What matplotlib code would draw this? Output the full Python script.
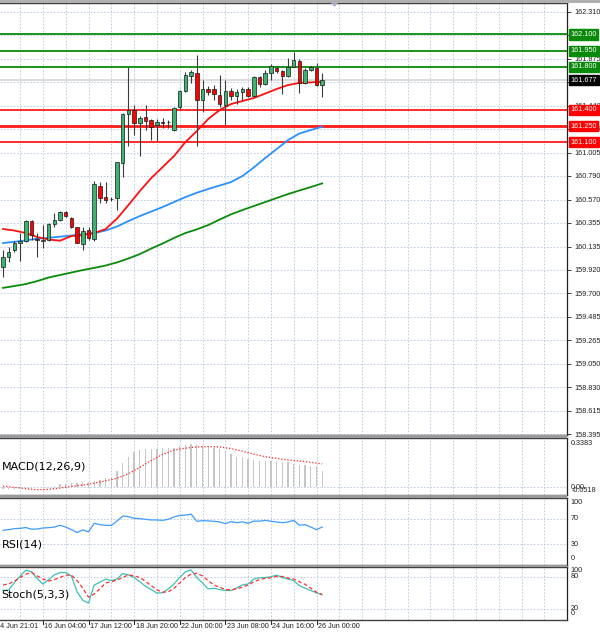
import numpy as np
import matplotlib
matplotlib.use("Agg")
import matplotlib.pyplot as plt
from matplotlib.patches import Rectangle, Polygon
import matplotlib.transforms as mtransforms

# ---------------- data ----------------
opens = [159.945, 160.035, 160.102, 160.170, 160.189, 160.374, 160.204, 160.190, 160.195, 160.340,
         160.380, 160.451, 160.402, 160.313, 160.158, 160.292, 160.204, 160.695, 160.591, 160.579,
         160.581, 160.911, 161.360, 161.399, 161.282, 161.332, 161.307, 161.260, 161.293, 161.285,
         161.214, 161.423, 161.575, 161.719, 161.747, 161.492, 161.591, 161.591, 161.538, 161.450,
         161.578, 161.532, 161.566, 161.591, 161.532, 161.702, 161.640, 161.745, 161.791, 161.761,
         161.714, 161.801, 161.853, 161.652, 161.770, 161.791, 161.631]
highs = [160.102, 160.133, 160.189, 160.257, 160.385, 160.385, 160.263, 160.334, 160.352, 160.448,
         160.467, 160.464, 160.411, 160.318, 160.313, 160.315, 160.742, 160.735, 160.735, 160.593,
         160.921, 161.372, 161.801, 161.446, 161.344, 161.446, 161.316, 161.321, 161.330, 161.307,
         161.432, 161.585, 161.754, 161.770, 161.909, 161.677, 161.622, 161.631, 161.724, 161.677,
         161.600, 161.591, 161.610, 161.610, 161.714, 161.714, 161.770, 161.825, 161.810, 161.770,
         161.884, 161.940, 161.872, 161.788, 161.807, 161.838, 161.739]
lows = [159.855, 159.994, 160.087, 160.003, 160.177, 160.195, 160.035, 160.121, 160.186, 160.318,
        160.371, 160.405, 160.306, 160.167, 160.102, 160.195, 160.186, 160.535, 160.538, 160.556,
        160.473, 160.782, 161.066, 161.168, 160.978, 161.214, 161.122, 161.116, 161.233, 161.230,
        161.205, 161.413, 161.566, 161.650, 161.066, 161.384, 161.538, 161.492, 161.430, 161.261,
        161.492, 161.455, 161.492, 161.520, 161.524, 161.615, 161.631, 161.677, 161.745, 161.548,
        161.705, 161.798, 161.554, 161.645, 161.761, 161.622, 161.523]
closes = [160.040, 160.087, 160.170, 160.189, 160.374, 160.241, 160.195, 160.200, 160.340, 160.380,
          160.454, 160.417, 160.318, 160.170, 160.278, 160.214, 160.714, 160.584, 160.566, 160.575,
          160.915, 161.360, 161.399, 161.279, 161.330, 161.300, 161.245, 161.293, 161.276, 161.284,
          161.418, 161.575, 161.724, 161.752, 161.492, 161.591, 161.566, 161.545, 161.452, 161.575,
          161.532, 161.563, 161.591, 161.532, 161.702, 161.640, 161.745, 161.810, 161.761, 161.714,
          161.801, 161.863, 161.652, 161.770, 161.795, 161.631, 161.677]

ma_idx = list(range(0, 57, 2))
ma_red = [160.297, 160.283, 160.260, 160.223, 160.200, 160.189, 160.232, 160.241, 160.260, 160.297,
          160.394, 160.519, 160.649, 160.769, 160.871, 160.973, 161.103, 161.205, 161.316, 161.399,
          161.455, 161.483, 161.511, 161.552, 161.594, 161.631, 161.651, 161.656, 161.662]
ma_blue = [160.167, 160.179, 160.192, 160.207, 160.216, 160.226, 160.237, 160.248, 160.260, 160.283,
           160.320, 160.371, 160.417, 160.459, 160.501, 160.547, 160.593, 160.633, 160.668, 160.700,
           160.732, 160.788, 160.867, 160.955, 161.038, 161.121, 161.182, 161.214, 161.245]
ma_green = [159.752, 159.769, 159.787, 159.815, 159.848, 159.871, 159.894, 159.917, 159.937, 159.959,
            159.988, 160.024, 160.065, 160.116, 160.163, 160.214, 160.260, 160.294, 160.334, 160.385,
            160.433, 160.473, 160.510, 160.547, 160.584, 160.621, 160.654, 160.686, 160.720]

price_ticks = [162.310, 162.090, 161.875, 161.660, 161.440, 161.225, 161.005, 160.790, 160.570, 160.355,
               160.135, 159.920, 159.700, 159.485, 159.265, 159.050, 158.830, 158.615, 158.395]
hidden_ticks = [162.090]  # fully covered by the 162.100 box in the reference
res_levels = [162.100, 161.950, 161.800]
sup_levels = [161.400, 161.250, 161.100]
last_price = 161.677

macd_hist = [-0.010, -0.012, -0.010, -0.008, -0.004, 0.000, 0.002, 0.003, 0.005, 0.008,
             0.023, 0.030, 0.035, 0.035, 0.038, 0.043, 0.048, 0.061, 0.076, 0.081,
             0.124, 0.187, 0.238, 0.276, 0.289, 0.296, 0.301, 0.301, 0.309, 0.309,
             0.309, 0.322, 0.327, 0.338, 0.334, 0.322, 0.314, 0.309, 0.296, 0.276,
             0.258, 0.238, 0.233, 0.220, 0.213, 0.208, 0.208, 0.208, 0.203, 0.195,
             0.195, 0.182, 0.170, 0.170, 0.169, 0.169, 0.131]
macd_signal = [0.010, 0.000, -0.010, -0.018, -0.015, -0.005, 0.008, 0.018, 0.033, 0.051,
               0.071, 0.106, 0.155, 0.208, 0.256, 0.289, 0.304, 0.314, 0.317, 0.314,
               0.301, 0.281, 0.258, 0.238, 0.225, 0.213, 0.205, 0.195, 0.182]

rsi = [52, 53, 54.6, 55, 56.2, 53.6, 54, 55.6, 56, 57,
       59.7, 57, 53, 48.5, 52.6, 49.5, 62.8, 60.8, 59.7, 59.5,
       66.4, 74.1, 73, 70.5, 70, 69, 68, 68, 67.4, 69,
       72.6, 75.1, 75.5, 77, 65.9, 66.9, 66.5, 66, 64.9, 62.3,
       65.4, 63.8, 65, 62.8, 66.4, 66, 67.4, 66, 64.9, 63.8,
       65, 67.4, 59.7, 60.8, 57, 53, 57]

stoch_main = [55, 56, 70, 83, 94, 91, 78, 67, 76, 85,
              89.5, 89.5, 83, 52, 36, 30.5, 65.6, 70.7, 77, 74,
              77, 87.6, 85, 80, 71.8, 63, 56.7, 49.8, 50.4, 58,
              67.5, 80, 90.8, 94.6, 80, 69.3, 58, 59.2, 56.7, 54.8,
              54.8, 59.9, 65.6, 67.5, 77, 79.5, 80, 81.4, 84.5, 80,
              77, 74, 64.3, 59.2, 54.8, 50.4, 46.6]
stoch_signal = [65.6, 67.5, 73.2, 80, 86.4, 89.5, 83, 77, 73.2, 75.8,
                80, 84.5, 84.5, 74, 59.2, 42, 48.3, 58, 69.3, 71.8,
                75, 80, 85, 83.2, 80, 72.5, 64.3, 56, 51.6, 52.3,
                59.2, 69.3, 80, 86.4, 88.3, 83.2, 74, 65.6, 61.2, 56.7,
                56, 58, 61.2, 65.6, 71.8, 75.8, 78.3, 79.5, 82, 82,
                78.8, 77, 71.8, 66.8, 59.2, 51.6, 47.2]

date_idx = [7, 15, 23, 31, 39, 47, 55]
date_labels = ["16 Jun 04:00", "17 Jun 12:00", "18 Jun 20:00", "22 Jun 00:00",
               "23 Jun 08:00", "24 Jun 16:00", "26 Jun 00:00"]
first_label = "14 Jun 21:01"

# ---------------- layout ----------------
W, H = 600, 633
fig = plt.figure(figsize=(W / 100, H / 100), dpi=100, facecolor="white")


def rect(x0, y0, x1, y1):
    return [x0 / W, 1 - y1 / H, (x1 - x0) / W, (y1 - y0) / H]


XLIM = (-0.53, 98.95)
GRID_KW = dict(color="#b4c4de", linestyle=(0, (2, 2)), linewidth=0.6)
LBL_FONT = "Liberation Sans"
LBL_SIZE = 5.2

ax = fig.add_axes(rect(0, 3, 567, 435))
axm = fig.add_axes(rect(0, 437.5, 567, 495))
axr = fig.add_axes(rect(0, 497.5, 567, 565))
axs = fig.add_axes(rect(0, 567, 567, 620))

vgrid = np.arange(3, 99, 4)
for a in (ax, axm, axr, axs):
    a.set_xlim(*XLIM)
    a.set_facecolor("white")
    for xv in vgrid:
        a.axvline(xv, zorder=0, **GRID_KW)
    a.set_xticks([])
    a.spines["left"].set_visible(False)
    a.spines["right"].set_color("#202020")
    a.spines["right"].set_linewidth(0.9)
    a.spines["top"].set_color("#404040")
    a.spines["bottom"].set_color("#404040")
    a.spines["top"].set_linewidth(1.0)
    a.spines["bottom"].set_linewidth(1.0)

# separators between panels
for (y0, y1) in [(435, 437.5), (495, 497.5), (565, 567)]:
    fig.patches.append(Rectangle((0, 1 - y1 / H), 567 / W, (y1 - y0) / H,
                                 transform=fig.transFigure, facecolor="#9a9a9a",
                                 edgecolor="none", zorder=5))
# top gray bar
fig.patches.append(Rectangle((0, 1 - 2.5 / H), 1, 2.5 / H, transform=fig.transFigure,
                             facecolor="#b0b0b0", edgecolor="none"))
# shift marker triangle
fig.patches.append(Polygon([[331 / W, 1 - 3 / H], [338 / W, 1 - 3 / H], [334.5 / W, 1 - 7 / H]],
                           closed=True, transform=fig.transFigure, facecolor="#a8aec4",
                           edgecolor="none", zorder=6))

# ---------------- main price panel ----------------
ax.set_ylim(158.389, 162.391)
ax.set_yticks(price_ticks)
ax.set_yticklabels(["" if v in hidden_ticks else f"{v:.3f}" for v in price_ticks],
                   fontsize=LBL_SIZE, family=LBL_FONT)
ax.yaxis.tick_right()
ax.tick_params(axis="y", length=3, width=0.6, pad=2, colors="#202020")
for yv in price_ticks:
    ax.axhline(yv, zorder=0, **GRID_KW)

idx = np.arange(len(opens))
ax.axhline(last_price, color="#d4d4d4", lw=1.2, zorder=1)

for lv in res_levels:
    ax.axhline(lv, color="#0a8a0a", lw=1.3, zorder=2)
for lv in sup_levels:
    ax.axhline(lv, color="#ff1a1a", lw=2.0 if lv == 161.25 else 1.3, zorder=2)

ax.plot(ma_idx, ma_green, color="#0a8a0a", lw=1.3, zorder=3)
ax.plot(ma_idx, ma_blue, color="#2b90ff", lw=1.3, zorder=3)
ax.plot(ma_idx, ma_red, color="#ff1010", lw=1.3, zorder=3)

o = np.array(opens); c = np.array(closes); hi = np.array(highs); lo = np.array(lows)
ax.vlines(idx, lo, hi, color="#3a3a3a", lw=0.8, zorder=4)
bull = c >= o
body_h = np.maximum(np.abs(c - o), 0.004)
ax.bar(idx[bull], body_h[bull], bottom=np.minimum(o, c)[bull], width=0.62,
       color="#3cb371", edgecolor="#1a1a1a", linewidth=0.5, zorder=5)
ax.bar(idx[~bull], body_h[~bull], bottom=np.minimum(o, c)[~bull], width=0.62,
       color="#ff0000", edgecolor="#1a1a1a", linewidth=0.5, zorder=5)

tr = mtransforms.blended_transform_factory(ax.transAxes, ax.transData)
box_x = 1 + 3.5 / 567


def level_box(val, col):
    ax.text(box_x, val, f"{val:.3f}", transform=tr, ha="left", va="center",
            fontsize=LBL_SIZE, family=LBL_FONT, color="white", clip_on=False, zorder=10,
            bbox=dict(boxstyle="square,pad=0.22", facecolor=col, edgecolor=col))


for lv in res_levels:
    level_box(lv, "#0a8a0a")
for lv in sup_levels:
    level_box(lv, "#ff0000")
level_box(last_price, "#000000")

# ---------------- MACD ----------------
axm.set_ylim(-0.059, 0.387)
axm.set_yticks([])
axm.axhline(0, zorder=0, **GRID_KW)
axm.bar(idx, macd_hist, width=0.22, color="#c6c6c6", zorder=2)
axm.plot(ma_idx, macd_signal, color="#ff2020", lw=0.9, linestyle=(0, (1, 1.5)), zorder=3)
trm = mtransforms.blended_transform_factory(axm.transAxes, axm.transData)
axm.text(box_x, 0.3383, "0.3383", transform=trm, ha="left", va="center", fontsize=LBL_SIZE,
         family=LBL_FONT, color="#202020", clip_on=False)
axm.text(box_x, 0.0, "0.00", transform=trm, ha="left", va="center", fontsize=LBL_SIZE,
         family=LBL_FONT, color="#202020", clip_on=False)
axm.text(box_x + 1.5 / 567, -0.027, "-0.0518", transform=trm, ha="left", va="center",
         fontsize=LBL_SIZE, family=LBL_FONT, color="#202020", clip_on=False)
axm.text(1.5 / 567, 0.5, "MACD(12,26,9)", transform=axm.transAxes, ha="left", va="center",
         fontsize=8, color="#000000", zorder=6)

# ---------------- RSI ----------------
axr.set_ylim(-1.8, 102.8)
axr.set_yticks([])
for lv in (70, 30):
    axr.axhline(lv, zorder=0, **GRID_KW)
axr.plot(idx, rsi, color="#3d9bff", lw=0.9, zorder=3)
trr = mtransforms.blended_transform_factory(axr.transAxes, axr.transData)
for val, ypos in [(100, 95.6), (70, 70), (30, 30), (0, 7.5)]:
    axr.text(box_x, ypos, str(val), transform=trr, ha="left", va="center", fontsize=LBL_SIZE,
             family=LBL_FONT, color="#202020", clip_on=False)
axr.text(1.5 / 567, 0.30, "RSI(14)", transform=axr.transAxes, ha="left", va="center",
         fontsize=8, color="#000000", zorder=6)

# ---------------- Stochastic ----------------
axs.set_ylim(-2.2, 100.3)
axs.set_yticks([])
for lv in (80, 20):
    axs.axhline(lv, zorder=0, **GRID_KW)
axs.plot(idx, stoch_main, color="#3cc0b4", lw=0.9, zorder=3)
axs.plot(idx, stoch_signal, color="#ff3030", lw=0.9, linestyle=(0, (3, 2)), zorder=3)
trs = mtransforms.blended_transform_factory(axs.transAxes, axs.transData)
for val, ypos in [(100, 93.5), (80, 82), (20, 20), (0, 10.5)]:
    axs.text(box_x, ypos, str(val), transform=trs, ha="left", va="center", fontsize=LBL_SIZE,
             family=LBL_FONT, color="#202020", clip_on=False)
axs.text(1.5 / 567, 0.48, "Stoch(5,3,3)", transform=axs.transAxes, ha="left", va="center",
         fontsize=8, color="#000000", zorder=6)

# ---------------- date axis ----------------
trx = mtransforms.blended_transform_factory(axs.transData, fig.transFigure)
for di, lab in zip(date_idx, date_labels):
    axs.plot([di, di], [1 - 620 / H, 1 - 623.5 / H], transform=trx, color="#202020",
             lw=0.7, clip_on=False)
    axs.text(di + 0.25, 1 - 626.5 / H, lab, transform=trx, ha="left", va="center",
             fontsize=LBL_SIZE, family=LBL_FONT, color="#202020", clip_on=False)
fig.text(-4.5 / W, 1 - 626.5 / H, first_label, ha="left", va="center",
         fontsize=LBL_SIZE, family=LBL_FONT, color="#202020")

fig.savefig("out.png", dpi=100, facecolor="white")
